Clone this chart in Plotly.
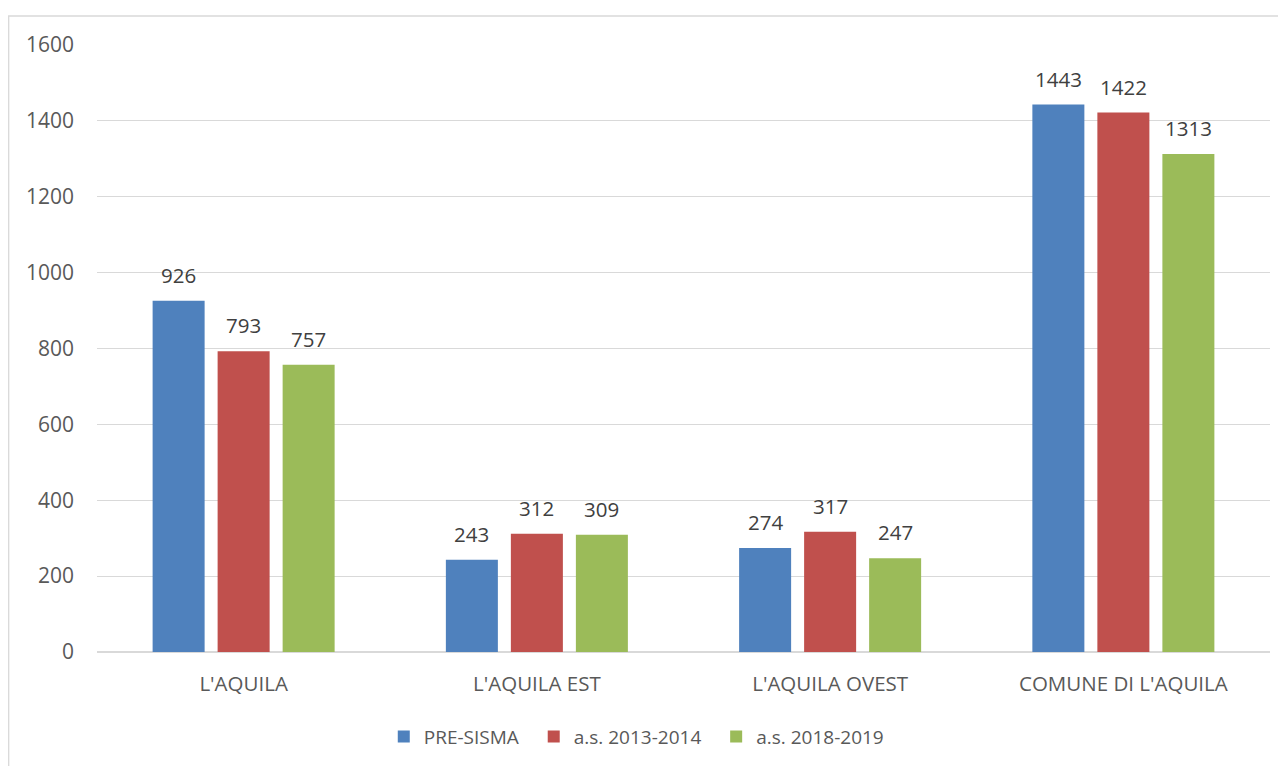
import plotly.graph_objects as go

categories = ["L'AQUILA", "L'AQUILA EST", "L'AQUILA OVEST", "COMUNE DI L'AQUILA"]
series_names = ["PRE-SISMA", "a.s. 2013-2014", "a.s. 2018-2019"]
pre_sisma = [926, 243, 274, 1443]
as_2013_2014 = [793, 312, 317, 1422]
as_2018_2019 = [757, 309, 247, 1313]
colors = ["#4F81BD", "#C0504D", "#9BBB59"]
tick_vals = [0, 200, 400, 600, 800, 1000, 1200, 1400, 1600]

FONT = "Open Sans, Liberation Sans, sans-serif"

L, R, T, B = 89, 24, 37, 122
PW, PH = 1286 - L - R, 766 - T - B
BARGAP, GROUPGAP = 0.335, 0.2
n_series = len(series_names)
slot = PW / len(categories) * (1 - BARGAP) / n_series

fig = go.Figure()
annotations = []
for i, (name, vals, col) in enumerate(zip(series_names, [pre_sisma, as_2013_2014, as_2018_2019], colors)):
    fig.add_trace(go.Bar(
        x=categories, y=vals, name=name + "\u00a0\u00a0",
        marker=dict(color=col, line=dict(width=0)),
    ))
    for c, v in zip(categories, vals):
        annotations.append(dict(
            x=c, y=v, xref="x", yref="y", text=str(v), showarrow=False,
            xanchor="center", yanchor="bottom",
            xshift=(i - (n_series - 1) / 2) * slot, yshift=10,
            font=dict(color="#404040", size=20.5, family=FONT),
        ))

fig.update_layout(
    width=1286, height=766,
    margin=dict(l=L, r=R, t=T, b=B, autoexpand=False),
    paper_bgcolor="white", plot_bgcolor="white",
    barmode="group", bargap=BARGAP, bargroupgap=GROUPGAP,
    font=dict(family=FONT, color="#595959", size=20),
    showlegend=True,
    legend=dict(orientation="h", x=0.464, xanchor="center", y=-0.108, yanchor="top",
                font=dict(size=19, color="#595959"), traceorder="normal",
                itemwidth=30),
    xaxis=dict(showgrid=False, showline=False, ticks="", tickfont=dict(size=20.5),
               ticklabelstandoff=17, automargin=False),
    yaxis=dict(range=[0, 1600], tickvals=tick_vals, showgrid=True, gridcolor="#D9D9D9",
               gridwidth=1.3, zeroline=True, zerolinecolor="#D9D9D9", zerolinewidth=1.5,
               showline=False, ticks="", tickfont=dict(size=21), ticklabelstandoff=22,
               automargin=False),
    annotations=annotations,
    shapes=[dict(type="rect", xref="paper", yref="paper",
                 x0=(0.7 - L) / PW, x1=(1300 - L) / PW,
                 y0=(T + PH - 800) / PH, y1=(T + PH - 8) / PH,
                 line=dict(color="#D9D9D9", width=1.3), fillcolor="rgba(0,0,0,0)",
                 layer="below")],
)

fig.write_html("out.html")
